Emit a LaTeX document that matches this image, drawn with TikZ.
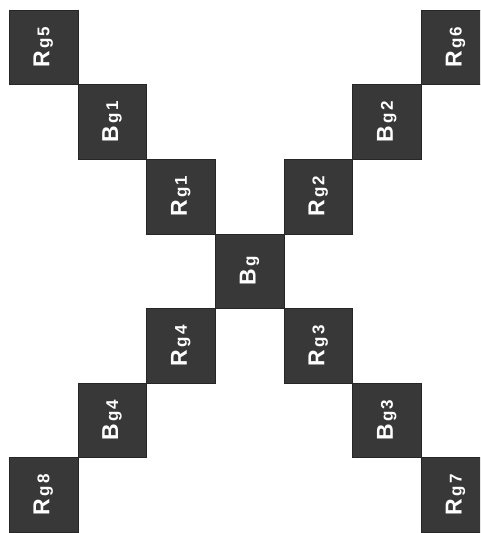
\documentclass[tikz,border=0pt]{standalone}
\usepackage{fontspec}
\setmainfont{Liberation Sans}
\newcommand\SqLbl[2]{{\fontsize{23}{23}\selectfont\bfseries #1}\kern2.5pt{\fontsize{17}{17}\selectfont\bfseries #2}}
\tikzset{
  sq/.style={rectangle, inner sep=0pt, fill=black!78, draw=black!85, line width=0.4pt,
    rotate=90, minimum width=74.6pt, minimum height=68.7pt, text=white, font=\bfseries}
}
\begin{document}
\begin{tikzpicture}[x=1pt,y=1pt]
\useasboundingbox (0,0) rectangle (480,-533);
\clip (0,0) rectangle (480,-533);
\node[sq] (rg5) at (43.35,-47.3)  {\SqLbl{R}{g\kern2pt5}};
\node[sq] (bg1) at (112.05,-121.9) {\SqLbl{B}{g\kern2pt1}};
\node[sq] (rg1) at (180.75,-196.5) {\SqLbl{R}{g\kern2pt1}};
\node[sq] (bg)  at (249.45,-271.1) {\SqLbl{B}{g}};
\node[sq] (rg2) at (318.15,-196.5) {\SqLbl{R}{g\kern2pt2}};
\node[sq] (bg2) at (386.85,-121.9) {\SqLbl{B}{g\kern2pt2}};
\node[sq] (rg6) at (455.55,-47.3)  {\SqLbl{R}{g\kern2pt6}};
\node[sq] (rg4) at (180.75,-345.7) {\SqLbl{R}{g\kern2pt4}};
\node[sq] (bg4) at (112.05,-420.3) {\SqLbl{B}{g\kern2pt4}};
\node[sq] (rg8) at (43.35,-494.9)  {\SqLbl{R}{g\kern2pt8}};
\node[sq] (rg3) at (318.15,-345.7) {\SqLbl{R}{g\kern2pt3}};
\node[sq] (bg3) at (386.85,-420.3) {\SqLbl{B}{g\kern2pt3}};
\node[sq] (rg7) at (455.55,-494.9) {\SqLbl{R}{g\kern2pt7}};
\end{tikzpicture}
\end{document}
